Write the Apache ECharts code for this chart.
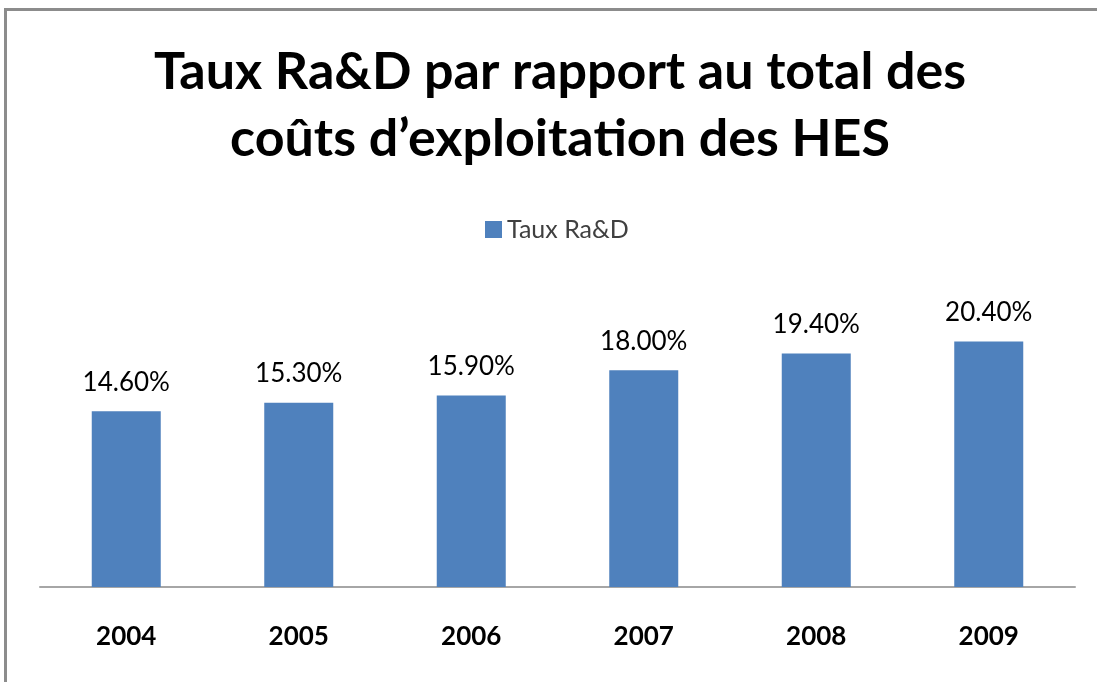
<!DOCTYPE html>
<html>
<head>
<meta charset="utf-8">
<script src="https://cdn.jsdelivr.net/npm/echarts@6/dist/echarts.min.js"></script>
<style>
html,body{margin:0;padding:0;background:#fff;}
#frame{position:absolute;left:4px;top:8px;width:1100px;height:700px;border-left:3px solid #8c8c8c;border-top:3px solid #8c8c8c;}
#chart{position:absolute;left:0;top:0;width:1097px;height:682px;}
</style>
</head>
<body>
<div id="frame"></div>
<div id="chart"></div>
<script>
const titleText = "Taux Ra&D par rapport au total des\ncoûts d\u2019exploitation des HES";
const seriesName = "Taux Ra&D";
const categories = ["2004", "2005", "2006", "2007", "2008", "2009"];
const values = [14.6, 15.3, 15.9, 18.0, 19.4, 20.4];

const FONT = "Lato";
const chart = echarts.init(document.getElementById('chart'), null, {renderer: 'canvas'});
chart.setOption({
  backgroundColor: 'transparent',
  animation: false,
  title: {
    text: titleText,
    left: 555,
    textAlign: 'center',
    top: 34,
    textStyle: {fontFamily: FONT, fontWeight: 'bold', fontSize: 52, lineHeight: 67, color: '#000'}
  },
  legend: {
    data: [seriesName],
    top: 212,
    left: 480,
    itemWidth: 17,
    itemHeight: 17,
    itemGap: 8,
    icon: 'rect',
    textStyle: {fontFamily: FONT, fontSize: 25, color: '#404040'}
  },
  grid: {left: 40, right: 22, top: 286, bottom: 95},
  xAxis: {
    type: 'category',
    data: categories,
    axisLine: {show: true, lineStyle: {color: '#a6a6a6', width: 2}},
    axisTick: {show: false},
    axisLabel: {fontFamily: FONT, fontWeight: 'bold', fontSize: 26, color: '#000', margin: 37}
  },
  yAxis: {
    type: 'value',
    min: 0,
    max: 25,
    show: false,
    splitLine: {show: false}
  },
  series: [{
    name: seriesName,
    type: 'bar',
    data: values,
    barWidth: 69,
    itemStyle: {color: '#4f81bd'},
    label: {
      show: true,
      position: 'top',
      distance: 16,
      fontFamily: FONT,
      fontSize: 26,
      color: '#000',
      formatter: p => p.value.toFixed(2) + '%'
    }
  }]
});
</script>
</body>
</html>
